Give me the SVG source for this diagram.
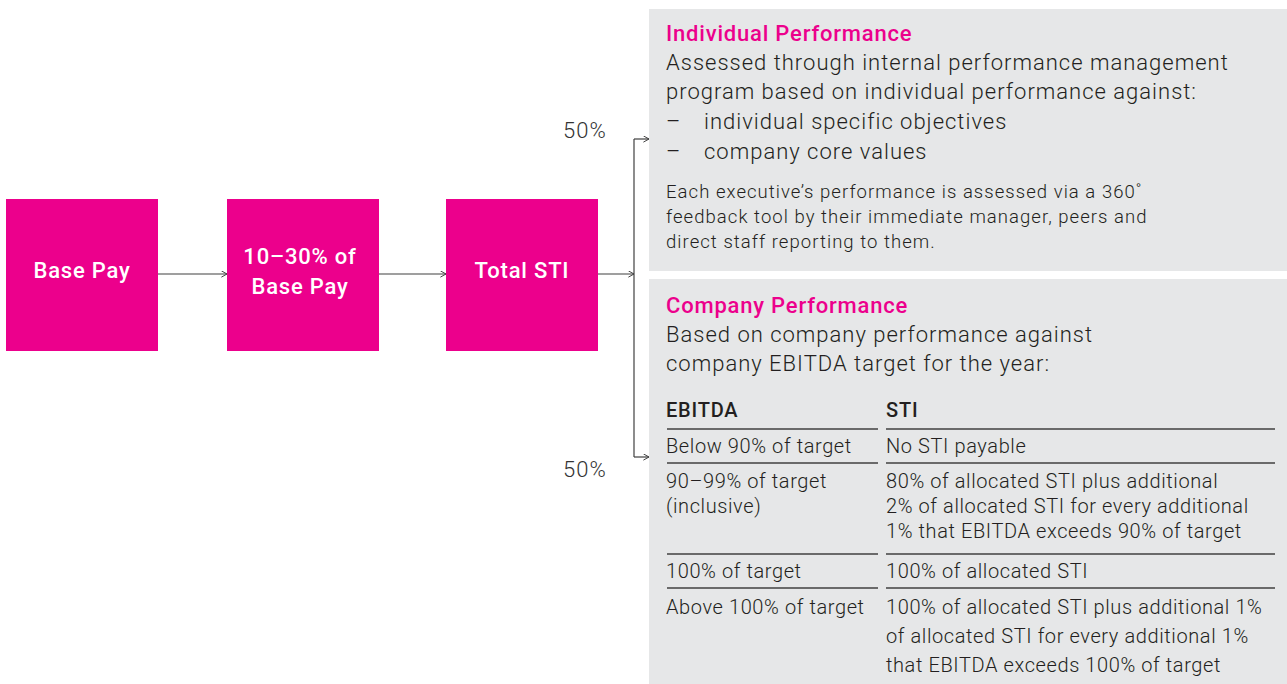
<svg xmlns="http://www.w3.org/2000/svg" width="1287" height="684" viewBox="0 0 1287 684">
  <style>
    .box { fill: #EC008C; }
    .boxlabel { font-family: Roboto, "Liberation Sans", sans-serif; font-size: 22px; font-weight: 500; letter-spacing: 0.8px; fill: #ffffff; text-anchor: middle; }
    .panel { fill: #E6E7E8; }
    .head { font-family: Roboto, "Liberation Sans", sans-serif; font-size: 22px; font-weight: 500; letter-spacing: 0.8px; fill: #EC008C; }
    .body { font-family: Roboto, "Liberation Sans", sans-serif; font-size: 22px; font-weight: 300; letter-spacing: 1px; fill: #231F20; }
    .small { font-family: Roboto, "Liberation Sans", sans-serif; font-size: 18.5px; font-weight: 300; letter-spacing: 1.05px; fill: #231F20; }
    .cell { font-family: Roboto, "Liberation Sans", sans-serif; font-size: 20px; font-weight: 300; letter-spacing: 0.6px; fill: #231F20; }
    .th { font-family: Roboto, "Liberation Sans", sans-serif; font-size: 20px; font-weight: 500; letter-spacing: 0.8px; fill: #231F20; }
    .pct { font-family: Roboto, "Liberation Sans", sans-serif; font-size: 22px; font-weight: 300; letter-spacing: 1px; fill: #333333; }
    .rule { stroke: #404040; stroke-width: 1.5; fill: none; }
    .conn { stroke: #404040; stroke-width: 1.2; fill: none; }
  </style>
  <defs>
    <marker id="chev" viewBox="0 0 10 10" refX="9" refY="5" markerWidth="7" markerHeight="7" markerUnits="userSpaceOnUse" orient="auto">
      <path d="M1,0.5 L9,5 L1,9.5" fill="none" stroke="#404040" stroke-width="1.4"/>
    </marker>
  </defs>

  <rect width="1287" height="684" fill="#ffffff"/>

  <!-- flow boxes -->
  <g id="base-pay">
    <rect class="box" x="6" y="199" width="152" height="152"/>
    <text class="boxlabel" x="82" y="278">Base Pay</text>
  </g>
  <g id="sti-share">
    <rect class="box" x="227" y="199" width="152" height="152"/>
    <text class="boxlabel" x="300" y="264">10–30% of</text>
    <text class="boxlabel" x="300" y="294">Base Pay</text>
  </g>
  <g id="total-sti">
    <rect class="box" x="446" y="199" width="152" height="152"/>
    <text class="boxlabel" x="522" y="278">Total STI</text>
  </g>

  <!-- connectors -->
  <g id="connectors">
    <line class="conn" x1="158" y1="274" x2="227" y2="274" marker-end="url(#chev)"/>
    <line class="conn" x1="379" y1="274" x2="446" y2="274" marker-end="url(#chev)"/>
    <line class="conn" x1="598" y1="274" x2="634" y2="274" marker-end="url(#chev)"/>
    <line class="conn" x1="634" y1="139" x2="634" y2="457"/>
    <line class="conn" x1="634" y1="139" x2="649" y2="139" marker-end="url(#chev)"/>
    <line class="conn" x1="634" y1="457" x2="649" y2="457" marker-end="url(#chev)"/>
    <text class="pct" x="563" y="138">50%</text>
    <text class="pct" x="563" y="477">50%</text>
  </g>

  <!-- individual performance panel -->
  <g id="individual-performance">
    <rect class="panel" x="649" y="9" width="638" height="262"/>
    <text class="head" x="666" y="41">Individual Performance</text>
    <text class="body" x="666" y="70">Assessed through internal performance management</text>
    <text class="body" x="666" y="99">program based on individual performance against:</text>
    <text class="body" x="666" y="129">–</text>
    <text class="body" x="704" y="129">individual specific objectives</text>
    <text class="body" x="666" y="159">–</text>
    <text class="body" x="704" y="159">company core values</text>
    <text class="small" x="666" y="198">Each executive’s performance is assessed via a 360˚</text>
    <text class="small" x="666" y="223">feedback tool by their immediate manager, peers and</text>
    <text class="small" x="666" y="248">direct staff reporting to them.</text>
  </g>

  <!-- company performance panel -->
  <g id="company-performance">
    <rect class="panel" x="649" y="279" width="638" height="405"/>
    <text class="head" x="666" y="313">Company Performance</text>
    <text class="body" x="666" y="342">Based on company performance against</text>
    <text class="body" x="666" y="371">company EBITDA target for the year:</text>

    <text class="th" x="666" y="417">EBITDA</text>
    <text class="th" x="886" y="417">STI</text>
    <line class="rule" x1="667" y1="429" x2="878" y2="429"/>
    <line class="rule" x1="886" y1="429" x2="1275" y2="429"/>

    <text class="cell" x="666" y="453">Below 90% of target</text>
    <text class="cell" x="886" y="453">No STI payable</text>
    <line class="rule" x1="667" y1="463" x2="878" y2="463"/>
    <line class="rule" x1="886" y1="463" x2="1275" y2="463"/>

    <text class="cell" x="666" y="488">90–99% of target</text>
    <text class="cell" x="666" y="513">(inclusive)</text>
    <text class="cell" x="886" y="488">80% of allocated STI plus additional</text>
    <text class="cell" x="886" y="513">2% of allocated STI for every additional</text>
    <text class="cell" x="886" y="538">1% that EBITDA exceeds 90% of target</text>
    <line class="rule" x1="667" y1="554" x2="878" y2="554"/>
    <line class="rule" x1="886" y1="554" x2="1275" y2="554"/>

    <text class="cell" x="666" y="578">100% of target</text>
    <text class="cell" x="886" y="578">100% of allocated STI</text>
    <line class="rule" x1="667" y1="588" x2="878" y2="588"/>
    <line class="rule" x1="886" y1="588" x2="1275" y2="588"/>

    <text class="cell" x="666" y="614">Above 100% of target</text>
    <text class="cell" x="886" y="614">100% of allocated STI plus additional 1%</text>
    <text class="cell" x="886" y="643">of allocated STI for every additional 1%</text>
    <text class="cell" x="886" y="672">that EBITDA exceeds 100% of target</text>
  </g>
</svg>
